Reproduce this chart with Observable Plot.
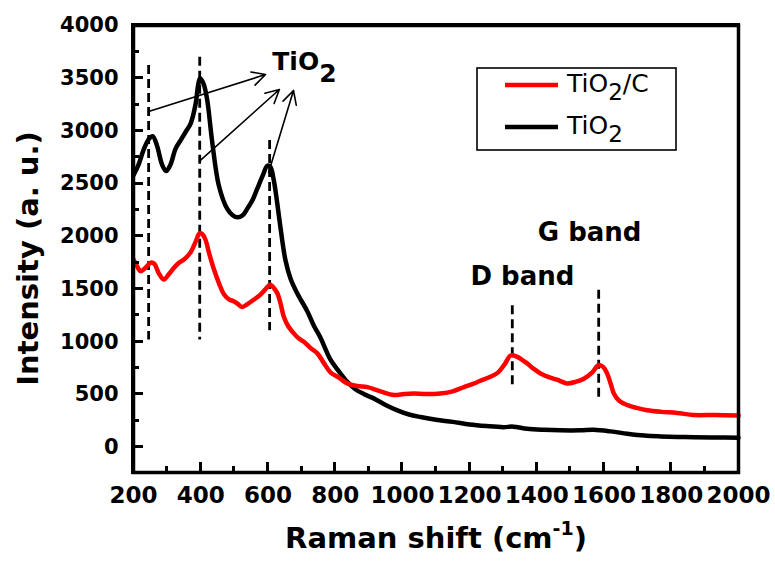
<!DOCTYPE html>
<html><head><meta charset="utf-8">
<script src="https://cdn.jsdelivr.net/npm/d3@7"></script>
<script src="https://cdn.jsdelivr.net/npm/@observablehq/plot@0.6"></script>
<style>
body{margin:0;background:#fff;}
#chart{position:relative;width:775px;height:563px;overflow:hidden;}
#chart svg{position:absolute;left:0;top:0;}
.ov{position:absolute;pointer-events:none;box-sizing:border-box;}
</style></head><body><div id="chart"></div>
<script>
// ---- data ----
const tio2Shift = [200,215,230,245,257,270,285,297,310,325,340,355,370,385,392,398,408,419,434,454,479,495,509,525,538,555,568,585,598,607,617,627,637,652,667,687,717,737,756,786,811,836,860,885,910,925,950,985,1020,1054,1100,1150,1200,1250,1300,1330,1371,1420,1470,1530,1569,1620,1669,1720,1768,1820,1867,1930,2000];
const tio2Intensity = [2580,2680,2820,2920,2950,2860,2680,2620,2680,2830,2910,2990,3070,3260,3430,3500,3450,3300,2900,2480,2260,2200,2180,2200,2260,2350,2450,2580,2670,2660,2540,2330,2090,1775,1600,1460,1290,1150,1040,830,720,620,550,505,470,445,400,350,310,286,260,240,215,200,190,195,175,165,160,160,165,150,128,110,102,97,95,92,90];
const tio2cShift = [200,210,221,235,251,262,275,290,305,320,335,350,370,385,397,405,414,425,439,455,469,485,498,510,523,540,558,575,590,605,612,620,628,637,647,660,677,692,707,727,747,766,786,811,836,866,896,935,975,1005,1034,1070,1113,1150,1183,1210,1232,1260,1285,1305,1322,1340,1371,1390,1411,1440,1460,1490,1515,1540,1565,1584,1598,1609,1620,1629,1645,1669,1700,1728,1770,1817,1867,1930,2000];
const tio2cIntensity = [1780,1720,1670,1700,1750,1740,1650,1590,1640,1700,1750,1780,1850,1950,2030,2020,1970,1840,1690,1550,1450,1400,1385,1360,1330,1360,1400,1440,1490,1540,1530,1500,1460,1370,1240,1150,1080,1030,1000,940,890,800,710,660,605,580,570,530,495,505,510,505,510,530,570,600,630,665,710,790,870,860,795,745,700,660,640,605,620,650,710,780,760,700,600,510,440,400,370,350,335,325,305,305,300];
const seriesNames = ["TiO2/C", "TiO2"];
const xMajorTicks = [200,400,600,800,1000,1200,1400,1600,1800,2000];
const xMinorTicks = [300,500,700,900,1100,1300,1500,1700,1900];
const yMajorTicks = [0,500,1000,1500,2000,2500,3000,3500,4000];
const yMinorTicks = [250,750,1250,1750,2250,2750,3250,3750];
const peakShift = [245,397,605,1327,1584];
const peakTop = [3620,3700,2908,1342,1488];
const peakBottom = [1018,1018,1104,550,455];
const arrowFromShift = [245,399,602];
const arrowFromIntensity = [3184,2720,2606];
const arrowToShift = [593,634,676];
const arrowToIntensity = [3535,3393,3384];
const labelText = ["TiO2", "D band", "G band"];
const labelShift = [613,1357,1557];
const labelIntensity = [3654,1619,2037];
const xTitle = "Raman shift (cm";
const xTitleSup = "-1";
const yTitle = "Intensity (a. u.)";

// ---- tables ----
const tio2 = tio2Shift.map((x, i) => ({x, y: tio2Intensity[i]}));
const tio2c = tio2cShift.map((x, i) => ({x, y: tio2cIntensity[i]}));
const peaks = peakShift.map((x, i) => ({x, y1: peakTop[i], y2: peakBottom[i]}));
const arrows = arrowFromShift.map((x1, i) => ({x1, y1: arrowFromIntensity[i], x2: arrowToShift[i], y2: arrowToIntensity[i]}));
const labels = labelText.map((t, i) => ({t, x: labelShift[i], y: labelIntensity[i]}));

const FONT = "'DejaVu Sans', Verdana, sans-serif";

const plot = Plot.plot({
  width: 775, height: 563,
  marginLeft: 133, marginRight: 37, marginTop: 25, marginBottom: 91,
  x: {domain: [200, 2000]},
  y: {domain: [-240, 4000]},
  style: {fontFamily: FONT, background: "white", color: "black"},
  marks: [
    Plot.ruleX(peaks, {x: "x", y1: "y1", y2: "y2", stroke: "black", strokeWidth: 2.8, strokeDasharray: "9,5"}),
    Plot.line(tio2, {x: "x", y: "y", stroke: "black", strokeWidth: 4.5, curve: "catmull-rom"}),
    Plot.line(tio2c, {x: "x", y: "y", stroke: "#ff0000", strokeWidth: 4.5, curve: "catmull-rom"}),
    Plot.arrow(arrows, {x1: "x1", y1: "y1", x2: "x2", y2: "y2", stroke: "black", strokeWidth: 1.6, headLength: 14, headAngle: 55}),
    Plot.text(labels.slice(0, 1), {x: "x", y: "y", text: "t", textAnchor: "start", fontSize: 25, fontWeight: "bold", fill: "black"}),
    Plot.text(labels.slice(1), {x: "x", y: "y", text: "t", textAnchor: "middle", fontSize: 26, fontWeight: "bold", fill: "black"}),
    Plot.axisX(xMajorTicks, {tickSize: 0, tickPadding: 14, fontSize: 23, fontWeight: "bold", label: null, tickFormat: d => String(d)}),
    Plot.axisY(yMajorTicks, {tickSize: 0, tickPadding: 15, fontSize: 21, fontWeight: "bold", label: null, tickFormat: d => String(d)}),
    Plot.frame({stroke: "black", strokeWidth: 3.5})
  ]
});

const chartDiv = document.getElementById("chart");
chartDiv.append(plot);
const svgSel = d3.select(plot);
const xScale = plot.scale("x"), yScale = plot.scale("y");
const pxBottom = yScale.apply(yScale.domain[0]);
const pxTop = yScale.apply(yScale.domain[1]);
const pxLeft = xScale.apply(xScale.domain[0]);
const pxRight = xScale.apply(xScale.domain[1]);

// frame and inward ticks as an overlay placed with Plot's scales
function addBox(css) { const d = document.createElement("div"); d.className = "ov"; Object.assign(d.style, css); chartDiv.append(d); }
addBox({left: (pxLeft - 1.75) + "px", top: (pxTop - 1.75) + "px", width: (pxRight - pxLeft + 3.5) + "px", height: (pxBottom - pxTop + 3.5) + "px", border: "3.5px solid black"});
xMajorTicks.forEach(v => addBox({left: (xScale.apply(v) - 1.5) + "px", top: (pxBottom - 10) + "px", width: "3px", height: "10px", background: "black"}));
xMinorTicks.forEach(v => addBox({left: (xScale.apply(v) - 1.5) + "px", top: (pxBottom - 6) + "px", width: "3px", height: "6px", background: "black"}));
yMajorTicks.forEach(v => addBox({left: pxLeft + "px", top: (yScale.apply(v) - 1.5) + "px", width: "10px", height: "3px", background: "black"}));
yMinorTicks.forEach(v => addBox({left: pxLeft + "px", top: (yScale.apply(v) - 1.5) + "px", width: "6px", height: "3px", background: "black"}));

// subscript in the TiO2 annotation
const annNodes = svgSel.selectAll('g[aria-label="text"] text').nodes();
if (annNodes.length) {
  const t0 = d3.select(annNodes[0]);
  t0.text("TiO");
  t0.append("tspan").attr("dy", "0.5em").text("2");
}

// axis titles
const xTitleSel = svgSel.append("text")
  .attr("x", 436).attr("y", 548)
  .attr("text-anchor", "middle")
  .attr("font-family", FONT).attr("font-size", 29).attr("font-weight", "bold").attr("fill", "black");
xTitleSel.append("tspan").text(xTitle);
xTitleSel.append("tspan").attr("dy", -13).attr("font-size", 19).text(xTitleSup);
xTitleSel.append("tspan").attr("dy", 13).text(")");

svgSel.append("text")
  .attr("transform", "translate(38,258.5) rotate(-90)")
  .attr("text-anchor", "middle")
  .attr("font-family", FONT).attr("font-size", 29).attr("font-weight", "bold").attr("fill", "black")
  .text(yTitle);

// legend
const legendSel = svgSel.append("g").attr("font-family", FONT).attr("fill", "black").attr("text-anchor", "start");
legendSel.append("rect").attr("x", 477).attr("y", 68).attr("width", 199).attr("height", 82)
  .attr("fill", "white").attr("stroke", "black").attr("stroke-width", 1.6);
const rowY = [85, 127];
const rowColor = ["#ff0000", "black"];
seriesNames.forEach((name, i) => {
  legendSel.append("line").attr("x1", 505).attr("x2", 558).attr("y1", rowY[i]).attr("y2", rowY[i])
    .attr("stroke", rowColor[i]).attr("stroke-width", 4.5);
  const t = legendSel.append("text").attr("x", 567).attr("y", rowY[i] + 7).attr("font-size", 25)
    .attr("text-anchor", "start");
  const m = name.match(/^(TiO)(2)(.*)$/);
  t.append("tspan").text(m[1]);
  t.append("tspan").attr("dy", 8).attr("font-size", 23).text(m[2]);
  if (m[3]) t.append("tspan").attr("dy", -8).text(m[3]);
});
</script>
</body></html>
